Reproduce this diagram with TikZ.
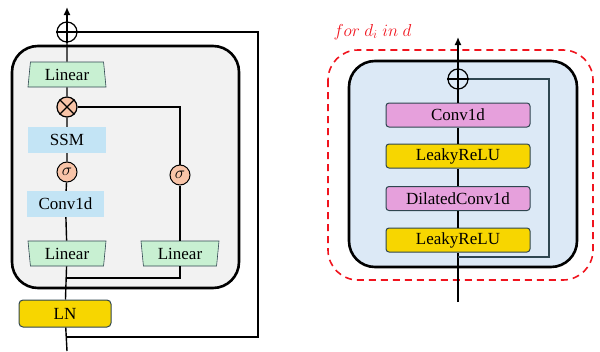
\documentclass[tikz,border=0pt]{standalone}
\usepackage{fontspec}
\setmainfont{Liberation Serif}
\usetikzlibrary{shapes.geometric,positioning,arrows.meta}
\definecolor{blockgray}{HTML}{F2F2F2}
\definecolor{blockblue}{HTML}{DCE9F6}
\definecolor{lingreen}{HTML}{C8F0D2}
\definecolor{ssmblue}{HTML}{C3E4F5}
\definecolor{opfill}{HTML}{F8C4A8}
\definecolor{lnyellow}{HTML}{F7D600}
\definecolor{convpink}{HTML}{E6A0DC}
\definecolor{edgedark}{HTML}{2F4650}
\definecolor{loopred}{HTML}{F0141E}
\tikzset{
  every node/.style={font=\fontsize{17}{19}\selectfont},
  flow/.style={line width=1.4pt},
  linbox/.style={trapezium, trapezium angle=78, trapezium stretches body,
    draw=edgedark, line width=0.6pt, fill=lingreen, minimum width=78pt,
    minimum height=25pt, inner sep=0pt},
  flatbox/.style={fill=ssmblue, minimum height=26pt, inner sep=0pt},
  opcirc/.style={circle, draw, line width=1.2pt, minimum size=20pt, inner sep=0pt},
  layerbox/.style={draw=edgedark, line width=1pt, rounded corners=3pt,
    minimum width=144pt, minimum height=24pt, inner sep=0pt},
  blockfrm/.style={draw, line width=2.6pt, rounded corners=26pt, inner sep=0pt}
}
\begin{document}
\begin{tikzpicture}[x=1pt, y=-1pt]
  \useasboundingbox (0,0) rectangle (600,351);

  % left block
  \node [blockfrm, fill=blockgray, minimum width=227pt, minimum height=242pt] (blockA) at (125.5,167) {};
  \node [opcirc] (plusA) at (67,32) {};
  \node [linbox] (linTop) at (67,74.5) {Linear};
  \node [opcirc, fill=opfill] (mulA) at (67,107) {};
  \node [flatbox, minimum width=78pt] (ssm) at (67,140) {SSM};
  \node [opcirc, fill=opfill, line width=1pt] (sigA) at (67,172) {$\sigma$};
  \node [flatbox, minimum width=77pt] (convA) at (65.5,204) {Conv1d};
  \node [linbox, shape border rotate=180] (linL) at (67,253.5) {Linear};
  \node [linbox, shape border rotate=180] (linR) at (180,253.5) {Linear};
  \node [opcirc, fill=opfill, line width=1pt] (sigB) at (180,175) {$\sigma$};
  \node [draw=edgedark, line width=1pt, fill=lnyellow, rounded corners=4pt,
    minimum width=92pt, minimum height=27pt, inner sep=0pt] (lnA) at (65,313.5) {LN};
  \coordinate (inA) at (67,351);
  \coordinate (outA) at (67,7);
  \coordinate (skipA) at (67,337);
  \coordinate (cornerA) at (258,337);
  \coordinate (splitA) at (67,278);

  \draw [flow] (mulA.north west) -- (mulA.south east) (mulA.north east) -- (mulA.south west);
  \draw [flow] (plusA.west) -- (plusA.east) (plusA.north) -- (plusA.south);
  \draw [flow] (inA) -- (lnA) (lnA) -- (linL) (linL) -- (convA) (convA) -- (sigA)
    (sigA) -- (ssm) (ssm) -- (mulA) (mulA) -- (linTop) (linTop) -- (plusA);
  \draw [flow, -{Latex[length=8pt,width=7pt]}] (plusA) -- (outA);
  \draw [flow] (splitA) -| (linR.south);
  \draw [flow] (linR) -- (sigB) |- (mulA);
  \draw [flow] (skipA) -- (cornerA) |- (plusA);

  % right block
  \draw [loopred, dashed, dash pattern=on 7pt off 5pt, line width=1.6pt, rounded corners=30pt]
    (328,50) rectangle (593,280);
  \node [text=loopred, anchor=west, font=\fontsize{18}{20}\selectfont] (loopLbl) at (330,32) {$for\ d_i\ in\ d$};
  \node [blockfrm, fill=blockblue, minimum width=228pt, minimum height=206pt] (blockB) at (463,164) {};
  \node [opcirc] (plusB) at (458,79) {};
  \node [layerbox, fill=convpink] (convB) at (458,115) {Conv1d};
  \node [layerbox, fill=lnyellow] (reluA) at (458,156) {LeakyReLU};
  \node [layerbox, fill=convpink] (dilB) at (458,198.5) {DilatedConv1d};
  \node [layerbox, fill=lnyellow] (reluB) at (458,240) {LeakyReLU};
  \coordinate (inB) at (458,302);
  \coordinate (outB) at (458,37);
  \coordinate (skipB) at (458,257);
  \coordinate (cornerB) at (549,257);

  \draw [flow] (plusB.west) -- (plusB.east) (plusB.north) -- (plusB.south);
  \draw [flow] (inB) -- (reluB) (reluB) -- (dilB) (dilB) -- (reluA) (reluA) -- (convB) (convB) -- (plusB);
  \draw [flow, -{Latex[length=8pt,width=7pt]}] (plusB) -- (outB);
  \draw [line width=1.2pt, edgedark] (skipB) -- (cornerB) |- (plusB);
\end{tikzpicture}
\end{document}
